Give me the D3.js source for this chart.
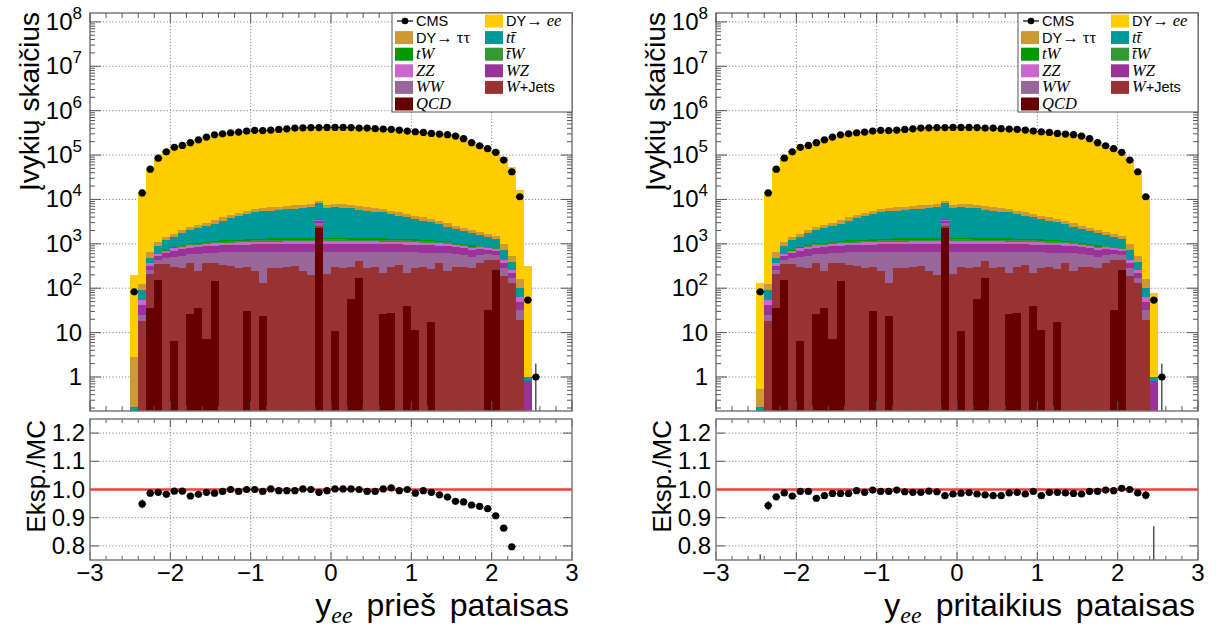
<!DOCTYPE html>
<html>
<head>
<meta charset="utf-8">
<title>y_ee prieš / pritaikius pataisas</title>
<script src="https://cdn.jsdelivr.net/npm/d3@7"></script>
<style>
  body { margin: 0; background: #fff; }
  text { font-family: "Liberation Sans", Arial, sans-serif; fill: #000; }
  .serif { font-family: "Liberation Serif", "Times New Roman", serif; }
  .math { font-family: "Liberation Serif", "Times New Roman", serif; font-style: italic; }
  .grid line { stroke: #666; stroke-width: 0.8; stroke-dasharray: 1.2, 2; }
  .frame { fill: none; stroke: #7a7a7a; stroke-width: 1.5; }
  .tick { stroke: #555; stroke-width: 1; }
  .bar { shape-rendering: crispEdges; }
</style>
</head>
<body>
<svg id="chart" width="1220" height="628"></svg>
<script>
// 50 bins of width 0.1 from -2.5 to 2.5 (left edge of each bin)
var binLow = d3.range(50).map(function(i) { return -2.5 + i * 0.1; });
var binW = 0.1;

// CMS data, bin centres -2.45 ... 2.55 (51 points)
var dataCounts = [83, 14000, 48000, 85000, 118000, 149000, 165000, 190000, 220000, 254000,
  286000, 300000, 318000, 330000, 347000, 360000, 355000, 366000, 378000, 390000,
  405000, 410000, 415000, 415000, 420000, 420000, 420000, 415000, 405000, 405000,
  392000, 385000, 379000, 366000, 347000, 335000, 324000, 307000, 297000, 287000,
  268000, 234000, 190000, 162000, 139000, 115000, 77000, 42000, 11500, 54, 1];

// simulated samples (events per bin), bottom of the stack first
var qcd = [0, 0, 35, 155, 0, 6.6, 0, 26, 35, 7, 142, 0, 0, 0, 30, 0, 24, 0, 0, 0,
  0, 0, 0, 2240, 0, 11, 0, 57, 167, 0, 0, 26, 28, 0, 40, 11.5, 0, 17, 0, 0,
  0, 0, 0, 0, 32, 257, 0, 0, 0, 0];
var wJets = [0, 18, 175, 200, 360, 300, 280, 350, 215, 360, 220, 330, 310, 290, 270, 240, 106, 290, 280, 300,
  310, 250, 200, 300, 210, 297, 283, 251, 233, 283, 308, 193, 280, 337, 179, 272, 308, 251, 366, 240,
  308, 308, 283, 366, 404, 179, 191, 130, 19.5, 0];
var ww = [0, 7, 47, 80, 115, 200, 260, 204, 350, 248, 268, 310, 330, 355, 345, 410, 520, 360, 370, 355,
  345, 405, 455, 350, 450, 352, 377, 352, 260, 372, 347, 431, 342, 313, 426, 357, 327, 362, 254, 370,
  270, 250, 230, 200, 150, 130, 90, 40, 12, 0];
var wz = [0, 17, 63, 100, 150, 200, 220, 240, 255, 270, 280, 290, 300, 310, 315, 320, 325, 330, 330, 335,
  330, 335, 330, 330, 335, 330, 335, 330, 330, 325, 330, 325, 320, 320, 315, 310, 305, 300, 290, 280,
  250, 235, 215, 190, 150, 140, 95, 49, 18, 0.8];
var zz = [0, 13, 45, 45, 60, 80, 90, 100, 105, 110, 115, 120, 125, 130, 135, 140, 140, 145, 145, 150,
  150, 150, 150, 150, 150, 150, 150, 150, 150, 150, 145, 145, 145, 140, 140, 135, 130, 125, 120, 115,
  105, 100, 90, 80, 70, 60, 50, 32, 15, 0];
var tbarW = [0, 1, 5, 12, 20, 30, 40, 48, 55, 60, 66, 70, 76, 80, 86, 90, 95, 98, 102, 105,
  108, 110, 112, 110, 110, 112, 110, 108, 106, 105, 103, 100, 98, 95, 92, 90, 86, 80, 76, 70,
  60, 55, 50, 40, 30, 25, 3, 1, 0, 0];
var tW = [0, 1, 5, 12, 20, 30, 40, 50, 55, 60, 65, 70, 75, 80, 85, 90, 95, 100, 100, 105,
  105, 110, 110, 110, 110, 110, 110, 110, 105, 105, 105, 100, 100, 95, 90, 90, 85, 80, 75, 70,
  60, 55, 50, 40, 30, 25, 3, 1, 0, 0];
var ttbar = [0.21, 34, 93, 300, 500, 560, 810, 1030, 1150, 1360, 1690, 2130, 2550, 3030, 3440, 3820, 4070, 4290, 4490, 4620,
  4880, 4990, 5300, 4560, 5030, 5360, 5210, 4950, 4520, 4280, 3960, 3800, 3390, 3010, 2750, 2370, 2080, 1830, 1550, 1300,
  1070, 910, 800, 630, 530, 450, 290, 127, 35, 0.22];
var dyTauTauBefore = [2.6, 36, 203, 170, 225, 245, 330, 400, 420, 480, 550, 630, 710, 800, 900, 960, 1000, 1060, 1100, 1140,
  1180, 1200, 1260, 1250, 1200, 1280, 1250, 1200, 1140, 1060, 1000, 960, 900, 820, 750, 690, 630, 570, 505, 450,
  400, 365, 330, 300, 270, 245, 270, 155, 60, 0];
var dyTauTauAfter = [0.34, 36, 203, 170, 225, 245, 330, 400, 420, 480, 550, 630, 710, 800, 900, 960, 1000, 1060, 1100, 1140,
  1180, 1200, 1260, 1250, 1200, 1280, 1250, 1200, 1140, 1060, 1000, 960, 900, 820, 750, 690, 630, 570, 505, 450,
  400, 365, 330, 300, 270, 245, 270, 155, 60, 0];
var dyEEBefore = [197, 14600, 47900, 84800, 118500, 148200, 164000, 192000, 221200, 253600,
  286400, 298100, 313500, 327200, 341400, 354000, 351200, 358600, 372600, 384500,
  399200, 401700, 407100, 409800, 414200, 411200, 411400, 406700, 397900, 401200,
  388500, 378200, 371100, 362400, 342300, 335100, 321400, 306500, 299600, 292200,
  277300, 242500, 199000, 170500, 147400, 125300, 88200, 52200, 15800, 308];
var dyEEAfter = [128, 14720, 48600, 84960, 119330, 148400, 164100, 193600, 222300, 254600,
  286600, 300300, 314800, 328300, 342100, 356500, 351200, 360100, 374200, 386800,
  401700, 405000, 410400, 414900, 419300, 417500, 416900, 414200, 405700, 407500,
  394500, 383700, 377200, 366800, 344700, 338200, 323300, 306500, 297500, 288300,
  269800, 233400, 189300, 160500, 137900, 113000, 76000, 42000, 11570, 77];

// data / MC ratio per bin
var ratioBefore = [0.415, 0.949, 0.987, 0.99, 0.983, 0.994, 0.994, 0.977, 0.983, 0.99,
  0.987, 0.993, 1.0, 0.993, 1.0, 1.0, 0.993, 1.002, 0.996, 0.996,
  0.996, 1.002, 1.0, 0.99, 0.996, 1.002, 1.002, 1.002, 1.0, 0.993,
  0.993, 1.002, 1.006, 0.996, 1.0, 0.987, 0.996, 0.99, 0.981, 0.973,
  0.958, 0.956, 0.945, 0.94, 0.932, 0.907, 0.863, 0.797, 0.72, 0.18];
var ratioErrBefore = [0.05, 0.016, 0.006, 0.004, 0.004, 0.004, 0.004, 0.004, 0.004, 0.004,
  0.004, 0.004, 0.004, 0.004, 0.004, 0.004, 0.004, 0.004, 0.004, 0.004,
  0.004, 0.004, 0.004, 0.004, 0.004, 0.004, 0.004, 0.004, 0.004, 0.004,
  0.004, 0.004, 0.004, 0.004, 0.004, 0.004, 0.004, 0.004, 0.004, 0.004,
  0.004, 0.004, 0.004, 0.004, 0.004, 0.004, 0.005, 0.006, 0.01, 0.03];
var ratioAfter = [0.69, 0.943, 0.974, 0.988, 0.977, 0.993, 0.993, 0.969, 0.978, 0.986,
  0.986, 0.986, 0.996, 0.99, 0.998, 0.993, 0.993, 0.998, 0.992, 0.99,
  0.99, 0.994, 0.992, 0.978, 0.984, 0.987, 0.989, 0.984, 0.981, 0.978,
  0.978, 0.988, 0.99, 0.984, 0.993, 0.978, 0.99, 0.99, 0.988, 0.986,
  0.984, 0.993, 0.993, 0.998, 0.996, 1.004, 1.0, 0.988, 0.98, 0.72];
var ratioErrAfter = [0.08, 0.016, 0.006, 0.004, 0.004, 0.004, 0.004, 0.004, 0.004, 0.004,
  0.004, 0.004, 0.004, 0.004, 0.004, 0.004, 0.004, 0.004, 0.004, 0.004,
  0.004, 0.004, 0.004, 0.004, 0.004, 0.004, 0.004, 0.004, 0.004, 0.004,
  0.004, 0.004, 0.004, 0.004, 0.004, 0.004, 0.004, 0.004, 0.004, 0.004,
  0.004, 0.004, 0.004, 0.004, 0.004, 0.004, 0.005, 0.006, 0.015, 0.15];

var stackKeys   = ["qcd", "wJets", "ww", "wz", "zz", "tbarW", "tW", "ttbar", "dyTauTau", "dyEE"];
var stackColors = {qcd: "#660000", wJets: "#993333", ww: "#996699", wz: "#993399", zz: "#cc66cc",
                   tbarW: "#339933", tW: "#009900", ttbar: "#009999", dyTauTau: "#cc9933", dyEE: "#ffcc00"};

// legend, row by row (two columns); each label is a list of [text, class]
var legendItems = [
  {key: "data", label: [["CMS", ""]]},
  {key: "dyEE", label: [["DY", ""], ["\u2192 ", "serif"], ["ee", "math"]]},
  {key: "dyTauTau", label: [["DY", ""], ["\u2192 \u03c4\u03c4", "serif"]]},
  {key: "ttbar", label: [["tt\u0304", "math"]]},
  {key: "tW", label: [["tW", "math"]]},
  {key: "tbarW", label: [["t\u0304W", "math"]]},
  {key: "zz", label: [["ZZ", "math"]]},
  {key: "wz", label: [["WZ", "math"]]},
  {key: "ww", label: [["WW", "math"]]},
  {key: "wJets", label: [["W", "math"], ["+Jets", ""]]},
  {key: "qcd", label: [["QCD", "math"]]}
];

var panels = [
  {left: 90,  dyEE: dyEEBefore, dyTauTau: dyTauTauBefore, ratio: ratioBefore, ratioErr: ratioErrBefore, title: "prie\u0161 pataisas"},
  {left: 716, dyEE: dyEEAfter,  dyTauTau: dyTauTauAfter,  ratio: ratioAfter,  ratioErr: ratioErrAfter,  title: "pritaikius pataisas"}
];

var frameW = 482,
    topY = 13, topB = 411,
    ratT = 419, ratB = 560;

var svg = d3.select("#chart");

panels.forEach(function(p, pi) {
  var x  = d3.scaleLinear().domain([-3, 3]).range([p.left, p.left + frameW]);
  var y  = d3.scaleLog().domain([Math.pow(10, -0.766), Math.pow(10, 8.2)]).range([topB, topY]);
  var yr = d3.scaleLinear().domain([0.75, 1.25]).range([ratB, ratT]);

  var g = svg.append("g");

  // clip paths
  g.append("clipPath").attr("id", "clipTop" + pi)
    .append("rect").attr("x", x(-3)).attr("y", topY).attr("width", frameW).attr("height", topB - topY);
  g.append("clipPath").attr("id", "clipRat" + pi)
    .append("rect").attr("x", x(-3)).attr("y", ratT).attr("width", frameW).attr("height", ratB - ratT);

  // ---------- upper pad ----------
  var grid = g.append("g").attr("class", "grid");
  d3.range(0, 9).forEach(function(k) {
    grid.append("line").attr("x1", x(-3)).attr("x2", x(3))
      .attr("y1", y(Math.pow(10, k))).attr("y2", y(Math.pow(10, k)));
  });
  d3.range(-2, 3).forEach(function(v) {
    grid.append("line").attr("x1", x(v)).attr("x2", x(v)).attr("y1", topY).attr("y2", topB);
    grid.append("line").attr("x1", x(v)).attr("x2", x(v)).attr("y1", ratT).attr("y2", ratB);
  });
  [0.8, 0.9, 1.1, 1.2].forEach(function(v) {
    grid.append("line").attr("x1", x(-3)).attr("x2", x(3)).attr("y1", yr(v)).attr("y2", yr(v));
  });

  // stacked histograms
  var table = binLow.map(function(lo, i) {
    return {lo: lo, qcd: qcd[i], wJets: wJets[i], ww: ww[i], wz: wz[i], zz: zz[i], tbarW: tbarW[i],
            tW: tW[i], ttbar: ttbar[i], dyTauTau: p.dyTauTau[i], dyEE: p.dyEE[i]};
  });
  var layers = d3.stack().keys(stackKeys)(table);
  var bars = g.append("g").attr("clip-path", "url(#clipTop" + pi + ")");
  layers.forEach(function(layer) {
    bars.append("g").attr("fill", stackColors[layer.key])
      .selectAll("rect")
      .data(layer.filter(function(d) { return d[1] - d[0] > 0; }))
      .enter().append("rect")
      .attr("class", "bar")
      .attr("x", function(d) { return x(d.data.lo); })
      .attr("width", function(d) { return x(d.data.lo + binW) - x(d.data.lo); })
      .attr("y", function(d) { return y(d[1]); })
      .attr("height", function(d) {
        var yb = d[0] > 0 ? y(d[0]) : topB + 5;
        return Math.max(0, yb - y(d[1]));
      });
  });

  // data points
  var pts = g.append("g").attr("clip-path", "url(#clipTop" + pi + ")");
  dataCounts.forEach(function(n, i) {
    var c = -2.45 + i * binW, e = Math.sqrt(n);
    var lo = n - e > 0 ? y(n - e) : topB + 5;
    pts.append("line").attr("x1", x(c)).attr("x2", x(c)).attr("y1", lo).attr("y2", y(n + e))
      .attr("stroke", "#000").attr("stroke-width", 1);
    pts.append("line").attr("x1", x(c - binW / 2)).attr("x2", x(c + binW / 2)).attr("y1", y(n)).attr("y2", y(n))
      .attr("stroke", "#000").attr("stroke-width", 1);
    pts.append("circle").attr("cx", x(c)).attr("cy", y(n)).attr("r", 3.6).attr("fill", "#000");
  });

  // frame & ticks, upper pad
  g.append("rect").attr("class", "frame").attr("x", x(-3)).attr("y", topY).attr("width", frameW).attr("height", topB - topY);
  var ticks = g.append("g").attr("class", "tick");
  d3.range(-3, 3.001, 0.2).forEach(function(v) {
    var major = Math.abs(v - Math.round(v)) < 1e-6, L = major ? 10 : 5;
    ticks.append("line").attr("x1", x(v)).attr("x2", x(v)).attr("y1", topB).attr("y2", topB - L);
    ticks.append("line").attr("x1", x(v)).attr("x2", x(v)).attr("y1", topY).attr("y2", topY + L);
    var Lr = major ? 8 : 4;
    ticks.append("line").attr("x1", x(v)).attr("x2", x(v)).attr("y1", ratB).attr("y2", ratB - Lr);
    ticks.append("line").attr("x1", x(v)).attr("x2", x(v)).attr("y1", ratT).attr("y2", ratT + Lr);
  });
  d3.range(-1, 9).forEach(function(k) {
    d3.range(1, 10).forEach(function(m) {
      var v = m * Math.pow(10, k);
      if (v < y.domain()[0] || v > y.domain()[1]) return;
      var L = m === 1 ? 11 : 5;
      ticks.append("line").attr("x1", x(-3)).attr("x2", x(-3) + L).attr("y1", y(v)).attr("y2", y(v));
      ticks.append("line").attr("x1", x(3)).attr("x2", x(3) - L).attr("y1", y(v)).attr("y2", y(v));
    });
  });

  // log labels
  d3.range(0, 9).forEach(function(k) {
    var t = g.append("text").attr("x", x(-3) - 8).attr("y", y(Math.pow(10, k)) + 8)
      .attr("text-anchor", "end").style("font-size", "24px");
    if (k === 0) t.text("1");
    else if (k === 1) t.text("10");
    else {
      t.append("tspan").text("10");
      t.append("tspan").attr("dy", -11).style("font-size", "17px").text(k);
    }
  });
  g.append("text").attr("transform", "translate(" + (p.left - 51) + "," + (topY - 1) + ") rotate(-90)")
    .attr("text-anchor", "end").style("font-size", "28px").text("\u012evyki\u0173 skai\u010dius");

  // legend
  var lx = p.left + 302, ly = topY, lw = 180, lh = 99, rowH = 16.6;
  var leg = g.append("g");
  leg.append("rect").attr("x", lx).attr("y", ly).attr("width", lw).attr("height", lh)
    .attr("fill", "#fff").attr("stroke", "#555").attr("stroke-width", 1);
  legendItems.forEach(function(it, i) {
    var col = i % 2, row = Math.floor(i / 2);
    var sx = lx + 3 + col * 90, cy = ly + 8 + row * rowH;
    if (it.key === "data") {
      leg.append("line").attr("x1", sx + 2).attr("x2", sx + 18).attr("y1", cy).attr("y2", cy)
        .attr("stroke", "#000").attr("stroke-width", 1.2);
      leg.append("circle").attr("cx", sx + 10).attr("cy", cy).attr("r", 3.3).attr("fill", "#000");
    } else {
      leg.append("rect").attr("x", sx).attr("y", cy - 6.5).attr("width", 18).attr("height", 13)
        .attr("fill", stackColors[it.key]);
    }
    var t = leg.append("text").attr("x", sx + 21).attr("y", cy + 5).style("font-size", "14.5px");
    it.label.forEach(function(part) {
      var s = t.append("tspan").text(part[0]);
      if (part[1]) s.attr("class", part[1]).style("font-size", "16.5px");
    });
  });

  // ---------- ratio pad ----------
  g.append("line").attr("x1", x(-3)).attr("x2", x(3)).attr("y1", yr(1)).attr("y2", yr(1))
    .attr("stroke", "#ff3b3b").attr("stroke-width", 2.5);
  var rp = g.append("g").attr("clip-path", "url(#clipRat" + pi + ")");
  p.ratio.forEach(function(r, i) {
    var c = -2.45 + i * binW, e = p.ratioErr[i];
    rp.append("line").attr("x1", x(c)).attr("x2", x(c)).attr("y1", yr(r - e)).attr("y2", yr(r + e))
      .attr("stroke", "#000").attr("stroke-width", 1);
    rp.append("line").attr("x1", x(c - binW / 2)).attr("x2", x(c + binW / 2)).attr("y1", yr(r)).attr("y2", yr(r))
      .attr("stroke", "#000").attr("stroke-width", 1);
    rp.append("circle").attr("cx", x(c)).attr("cy", yr(r)).attr("r", 3.6).attr("fill", "#000");
  });
  g.append("rect").attr("class", "frame").attr("x", x(-3)).attr("y", ratT).attr("width", frameW).attr("height", ratB - ratT);
  [0.8, 0.9, 1.0, 1.1, 1.2].forEach(function(v) {
    ticks.append("line").attr("x1", x(-3)).attr("x2", x(-3) + 9).attr("y1", yr(v)).attr("y2", yr(v));
    ticks.append("line").attr("x1", x(3)).attr("x2", x(3) - 9).attr("y1", yr(v)).attr("y2", yr(v));
    g.append("text").attr("x", x(-3) - 5).attr("y", yr(v) + 8).attr("text-anchor", "end")
      .style("font-size", "24px").text(d3.format(".1f")(v));
  });
  d3.range(-3, 4).forEach(function(v) {
    g.append("text").attr("x", x(v)).attr("y", 581).attr("text-anchor", "middle")
      .style("font-size", "24px").text(d3.format("")(v).replace("-", "\u2212"));
  });
  g.append("text").attr("transform", "translate(" + (p.left - 45) + "," + (ratT + 1) + ") rotate(-90)")
    .attr("text-anchor", "end").style("font-size", "26px").text("Eksp./MC");

  var xt = g.append("text").attr("x", x(3) - 3).attr("y", 616).attr("text-anchor", "end")
    .style("font-size", "32px").style("word-spacing", "5px");
  xt.append("tspan").text("y");
  xt.append("tspan").attr("class", "math").attr("dy", 7).style("font-size", "24px").text("ee");
  xt.append("tspan").attr("dy", -7).attr("dx", 14).text(p.title);
});
</script>
</body>
</html>
